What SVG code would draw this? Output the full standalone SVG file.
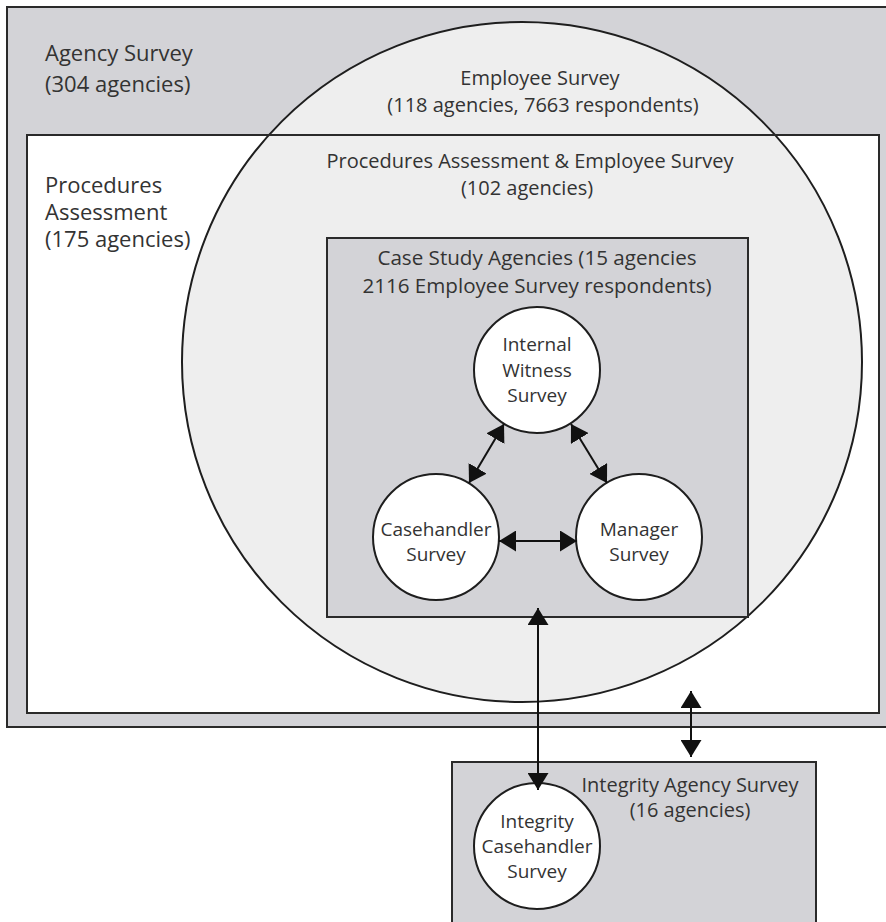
<svg xmlns="http://www.w3.org/2000/svg" width="886" height="922" viewBox="0 0 886 922">
<style>
.gray{fill:#d3d3d7;stroke:#2a2a2a;stroke-width:2}
.node{fill:#ffffff;stroke:#1e1e1e;stroke-width:2}
.lbl{font-family:"Open Sans","Noto Sans",sans-serif;fill:#333;font-size:20px}
.big{font-size:22px}
.mid{font-size:20.6px}
.nl{font-size:19px}
.c{text-anchor:middle}
.conn line{stroke:#111;stroke-width:2;marker-start:url(#ah);marker-end:url(#ah)}
</style>
<defs>
<marker id="ah" viewBox="0 0 17 21" refX="17" refY="10.5" markerWidth="17" markerHeight="21" markerUnits="userSpaceOnUse" orient="auto-start-reverse">
<path d="M0,0 L17,10.5 L0,21 Z" fill="#111"/>
</marker>
</defs>
<rect width="886" height="922" fill="#ffffff"/>
<g id="agency-survey">
<rect class="gray" x="7" y="7" width="890" height="720"/>
<text class="lbl big" x="45" y="61">Agency Survey</text>
<text class="lbl big" x="45" y="92">(304 agencies)</text>
</g>
<g id="procedures-assessment">
<rect x="27" y="135" width="852" height="578" fill="#ffffff"/>
</g>
<g id="employee-survey">
<circle cx="522" cy="362" r="340" fill="#eeeeee" stroke="#1e1e1e" stroke-width="2"/>
<text class="lbl c" x="540" y="85">Employee Survey</text>
<text class="lbl c" x="543" y="112">(118 agencies, 7663 respondents)</text>
</g>
<g id="procedures-assessment-outline">
<rect x="27" y="135" width="852" height="578" fill="none" stroke="#2a2a2a" stroke-width="2"/>
<text class="lbl big" x="45" y="193">Procedures</text>
<text class="lbl big" x="45" y="220">Assessment</text>
<text class="lbl big" x="45" y="247">(175 agencies)</text>
<text class="lbl c" x="530" y="168">Procedures Assessment &amp; Employee Survey</text>
<text class="lbl c" x="527" y="195">(102 agencies)</text>
</g>
<g id="case-study-agencies">
<rect class="gray" x="327" y="238" width="421" height="379"/>
<text class="lbl mid c" x="537" y="265">Case Study Agencies (15 agencies</text>
<text class="lbl mid c" x="537" y="293">2116 Employee Survey respondents)</text>
</g>
<g id="internal-witness-survey">
<circle class="node" cx="537" cy="370" r="63"/>
<text class="lbl nl c" x="537" y="351">Internal</text>
<text class="lbl nl c" x="537" y="377">Witness</text>
<text class="lbl nl c" x="537" y="402">Survey</text>
</g>
<g id="casehandler-survey">
<circle class="node" cx="436" cy="537" r="63"/>
<text class="lbl nl c" x="436" y="536">Casehandler</text>
<text class="lbl nl c" x="436" y="561">Survey</text>
</g>
<g id="manager-survey">
<circle class="node" cx="639" cy="537" r="63"/>
<text class="lbl nl c" x="639" y="536">Manager</text>
<text class="lbl nl c" x="639" y="561">Survey</text>
</g>
<g id="integrity-agency-survey">
<rect class="gray" x="452" y="762" width="364" height="170"/>
<text class="lbl c" x="690" y="792">Integrity Agency Survey</text>
<text class="lbl c" x="690" y="817">(16 agencies)</text>
</g>
<g id="integrity-casehandler-survey">
<circle class="node" cx="537" cy="846" r="63"/>
<text class="lbl nl c" x="537" y="828">Integrity</text>
<text class="lbl nl c" x="537" y="853">Casehandler</text>
<text class="lbl nl c" x="537" y="878">Survey</text>
</g>
<g id="connectors" class="conn">
<line x1="504" y1="424" x2="469" y2="483"/>
<line x1="571" y1="424" x2="607" y2="483"/>
<line x1="499" y1="541" x2="577" y2="541"/>
<line x1="538" y1="608" x2="538" y2="790"/>
<line x1="691" y1="691" x2="691" y2="757"/>
</g>
</svg>
